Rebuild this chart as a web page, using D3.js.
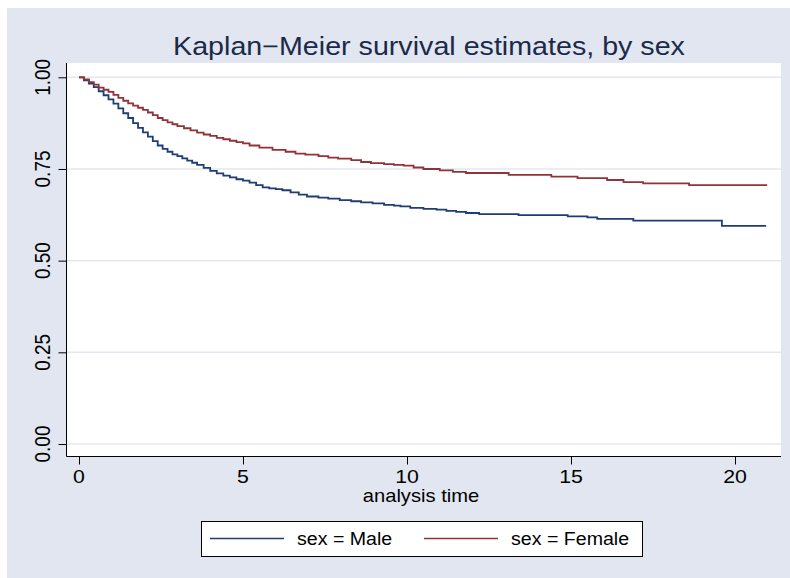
<!DOCTYPE html>
<html>
<head>
<meta charset="utf-8">
<script src="https://cdn.jsdelivr.net/npm/d3@7"></script>
<style>
  body { margin: 0; background: #fff; }
  svg { display: block; font-family: "Liberation Sans", Arial, sans-serif; }
</style>
</head>
<body>
<svg class="chart" width="790" height="578"></svg>
<script>
// KM estimates (time, survival)
var maleTime = [0, 0.15, 0.3, 0.45, 0.6, 0.75, 0.9, 1.05, 1.2, 1.35, 1.5, 1.65, 1.8, 1.95, 2.1, 2.25, 2.4, 2.55, 2.7, 2.85, 3.0, 3.15, 3.3, 3.45, 3.6, 3.8, 4.0, 4.2, 4.4, 4.6, 4.8, 5.0, 5.2, 5.4, 5.6, 5.8, 6.0, 6.2, 6.45, 6.7, 6.95, 7.3, 7.6, 7.95, 8.3, 8.6, 8.95, 9.3, 9.6, 9.8, 10.1, 10.5, 10.9, 11.2, 11.5, 11.8, 12.2, 13.4, 14.9, 15.5, 15.8, 16.9, 19.6, 20.95];
var maleSurv = [1.000, 0.992, 0.983, 0.973, 0.962, 0.951, 0.940, 0.928, 0.915, 0.902, 0.889, 0.875, 0.862, 0.850, 0.838, 0.826, 0.814, 0.805, 0.797, 0.790, 0.785, 0.779, 0.773, 0.767, 0.761, 0.753, 0.745, 0.738, 0.732, 0.727, 0.722, 0.718, 0.713, 0.706, 0.700, 0.697, 0.695, 0.692, 0.686, 0.680, 0.675, 0.672, 0.669, 0.665, 0.662, 0.659, 0.656, 0.652, 0.650, 0.648, 0.644, 0.641, 0.639, 0.636, 0.633, 0.630, 0.627, 0.624, 0.621, 0.618, 0.614, 0.609, 0.595, 0.595];

var femaleTime = [0, 0.15, 0.3, 0.45, 0.6, 0.75, 0.9, 1.05, 1.2, 1.35, 1.5, 1.65, 1.8, 1.95, 2.1, 2.25, 2.4, 2.55, 2.7, 2.85, 3.0, 3.2, 3.4, 3.6, 3.8, 4.0, 4.2, 4.4, 4.6, 4.8, 5.0, 5.2, 5.5, 5.9, 6.3, 6.6, 6.9, 7.3, 7.6, 7.9, 8.3, 8.6, 8.9, 9.3, 9.6, 9.9, 10.2, 10.5, 11.0, 11.4, 11.8, 13.1, 14.4, 15.2, 16.1, 16.6, 17.2, 18.6, 20.98];
var femaleSurv = [1.000, 0.994, 0.987, 0.980, 0.972, 0.966, 0.960, 0.952, 0.944, 0.936, 0.929, 0.923, 0.917, 0.911, 0.904, 0.897, 0.889, 0.883, 0.877, 0.872, 0.867, 0.861, 0.855, 0.849, 0.844, 0.840, 0.835, 0.831, 0.827, 0.823, 0.820, 0.814, 0.808, 0.802, 0.797, 0.792, 0.789, 0.785, 0.781, 0.778, 0.774, 0.769, 0.766, 0.763, 0.761, 0.759, 0.754, 0.750, 0.746, 0.742, 0.739, 0.734, 0.729, 0.725, 0.720, 0.714, 0.711, 0.706, 0.706];

var xTicks = [0, 5, 10, 15, 20];
var yTicks = [0, 0.25, 0.5, 0.75, 1.0];
var seriesNames = ["sex = Male", "sex = Female"];
var seriesColors = ["#1f3d73", "#913339"];

var SX = 1.12; // the picture is a bit wider than tall, text too

var svg = d3.select(".chart");

// outer graph region
svg.append("rect")
  .attr("x", 7).attr("y", 8)
  .attr("width", 783).attr("height", 570)
  .attr("fill", "#e1e6f0");

var x = d3.scaleLinear().domain([0, 20]).range([79, 735]);
var y = d3.scaleLinear().domain([0, 1]).range([444, 77.3]);

var plotL = 66.5, plotR = 781, plotT = 63, plotB = 456.5;

svg.append("rect")
  .attr("x", plotL).attr("y", plotT)
  .attr("width", plotR - plotL).attr("height", plotB - plotT)
  .attr("fill", "#fff");

// grid
svg.append("g").selectAll("line")
  .data(yTicks)
  .enter().append("line")
    .attr("x1", plotL).attr("x2", plotR)
    .attr("y1", d => y(d)).attr("y2", d => y(d))
    .attr("stroke", "#e3e7ef")
    .attr("stroke-width", 1.5);

// axes (ticks + lines only, labels drawn below)
var yAxis = svg.append("g")
  .attr("transform", "translate(" + plotL + ",0)")
  .call(d3.axisLeft(y).tickValues(yTicks).tickFormat("").tickSize(8));
yAxis.select(".domain").attr("d", "M0," + plotT + "V" + plotB);

var xAxis = svg.append("g")
  .attr("transform", "translate(0," + plotB + ")")
  .call(d3.axisBottom(x).tickValues(xTicks).tickFormat("").tickSize(8));
xAxis.select(".domain").attr("d", "M" + plotL + ",0H" + plotR);

svg.selectAll(".tick line").attr("stroke", "#000");
svg.selectAll(".domain").attr("stroke", "#000");

// tick labels
svg.append("g").selectAll("text")
  .data(yTicks)
  .enter().append("text")
    .attr("transform", d => "translate(49.5," + y(d) + ") scale(" + SX + ",1) rotate(-90)")
    .attr("text-anchor", "middle")
    .attr("font-size", 19)
    .attr("fill", "#000")
    .text(d3.format(".2f"));

svg.append("g").selectAll("text")
  .data(xTicks)
  .enter().append("text")
    .attr("transform", d => "translate(" + x(d) + ",482.5) scale(" + SX + ",1)")
    .attr("text-anchor", "middle")
    .attr("font-size", 19)
    .attr("fill", "#000")
    .text(d => d);

// curves
var line = d3.line()
  .x(d => x(d[0]))
  .y(d => y(d[1]))
  .curve(d3.curveStepAfter);

var series = [
  d3.zip(maleTime, maleSurv),
  d3.zip(femaleTime, femaleSurv)
];

svg.append("g").selectAll("path")
  .data(series)
  .enter().append("path")
    .attr("d", line)
    .attr("fill", "none")
    .attr("stroke", (d, i) => seriesColors[i])
    .attr("stroke-width", 1.8);

function hText(px, py, size, str, col) {
  return svg.append("text")
    .attr("transform", "translate(" + px + "," + py + ") scale(" + SX + ",1)")
    .attr("text-anchor", "middle")
    .attr("font-size", size)
    .attr("fill", col || "#000")
    .text(str);
}

// title
hText(429, 55, 25.6, "Kaplan\u2212Meier survival estimates, by sex", "#1c2a4a");
hText(421, 502, 18, "analysis time");

// legend
var lg = svg.append("g");
lg.append("rect")
  .attr("x", 201.5).attr("y", 521.5)
  .attr("width", 441).attr("height", 35)
  .attr("fill", "#fff")
  .attr("stroke", "#000");

var legX = [210, 424];
seriesNames.forEach(function(name, i) {
  lg.append("line")
    .attr("x1", legX[i]).attr("x2", legX[i] + 74)
    .attr("y1", 538.5).attr("y2", 538.5)
    .attr("stroke", seriesColors[i])
    .attr("stroke-width", 1.5);
  lg.append("text")
    .attr("transform", "translate(" + (legX[i] + 87) + ",545) scale(" + SX + ",1)")
    .attr("font-size", 17.5)
    .attr("fill", "#000")
    .text(name);
});
</script>
</body>
</html>
